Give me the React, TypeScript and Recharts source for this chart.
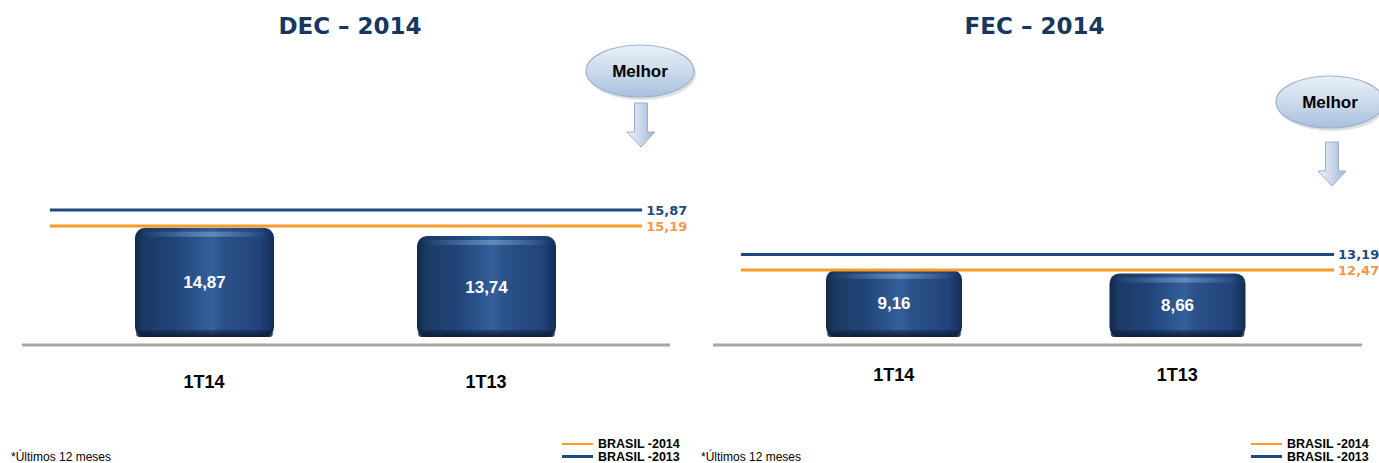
import React from 'react';
import { ComposedChart, Bar, XAxis, YAxis, ReferenceLine, LabelList } from 'recharts';

// quarters and indicator values
const CATEGORIES = ['1T14', '1T13'];
const DEC_VALUES = [14.87, 13.74];
const FEC_VALUES = [9.16, 8.66];
const SERIES_LABELS = ['BRASIL -2014', 'BRASIL -2013'];
const DEC_BRASIL = [15.19, 15.87];
const FEC_BRASIL = [12.47, 13.19];

const ORANGE = '#F69C2A';
const ORANGE_TEXT = '#F79646';
const NAVY = '#1F497D';
const TITLE = '#17375E';
const SERIES_COLORS = [ORANGE, NAVY];
const SERIES_TEXT = [ORANGE_TEXT, NAVY];

// the brasil lines leave a small gap at both ends of the plot
const LINE_INSET = 0.043;

const fmt = (v: number) => v.toFixed(2).replace('.', ',');

function CylinderBar(props: any) {
  const { x, y, width, height, gid } = props;
  if (!height || height <= 0) return null;
  return (
    <g>
      <rect x={x} y={y} width={width} height={height} rx={10} fill={`url(#${gid}-body)`} />
      <rect x={x + 6} y={y + 4} width={width - 12} height={5} rx={2.5} fill={`url(#${gid}-top)`} />
      <rect x={x + 1} y={y + height - 7} width={width - 2} height={7} rx={4} fill={`url(#${gid}-base)`} />
    </g>
  );
}

// horizontal reference line with its value written after the right end
function BrasilLine(props: any) {
  const { x1, x2, y1, color, textColor, text } = props;
  if (x1 == null || y1 == null) return null;
  const inset = (x2 - x1) * LINE_INSET;
  const a = x1 + inset;
  const b = x2 - inset;
  return (
    <g>
      <line x1={a} x2={b} y1={y1} y2={y1} stroke={color} strokeWidth={3} />
      <text
        x={b + 4}
        y={y1}
        dy="0.35em"
        fill={textColor}
        fontSize={13}
        fontWeight={700}
        fontFamily="DejaVu Sans"
      >
        {text}
      </text>
    </g>
  );
}

interface PanelProps {
  id: string;
  title: string;
  values: number[];
  brasil: number[];
  left: number;
  width: number;
  margin: { top: number; right: number; bottom: number; left: number };
  pad: { left: number; right: number };
  barSize: number;
  barDomain: [number, number];
  refDomain: [number, number];
  tickMargin: number;
}

function Panel(p: PanelProps) {
  const data = CATEGORIES.map((cat, i) => ({ cat, value: p.values[i] }));
  return (
    <div style={{ position: 'absolute', left: p.left, top: 0, width: p.width, height: 463 }}>
      <div
        style={{
          position: 'absolute',
          left: 0,
          width: p.width,
          top: 13,
          textAlign: 'center',
          fontFamily: 'DejaVu Sans',
          fontWeight: 700,
          fontSize: 23,
          lineHeight: '26px',
          color: TITLE,
        }}
      >
        {p.title}
      </div>
      <ComposedChart width={p.width} height={463} data={data} margin={p.margin}>
        <defs>
          <linearGradient id={`${p.id}-body`} x1="0" y1="0" x2="1" y2="0">
            <stop offset="0" stopColor="#12284a" />
            <stop offset="0.06" stopColor="#1b3963" />
            <stop offset="0.3" stopColor="#21457a" />
            <stop offset="0.55" stopColor="#34609a" />
            <stop offset="0.63" stopColor="#2b5289" />
            <stop offset="0.9" stopColor="#21437a" />
            <stop offset="1" stopColor="#152d54" />
          </linearGradient>
          <linearGradient id={`${p.id}-top`} x1="0" y1="0" x2="1" y2="0">
            <stop offset="0" stopColor="#6d93c4" stopOpacity="0" />
            <stop offset="0.55" stopColor="#6d93c4" stopOpacity="0.8" />
            <stop offset="1" stopColor="#6d93c4" stopOpacity="0" />
          </linearGradient>
          <linearGradient id={`${p.id}-base`} x1="0" y1="0" x2="0" y2="1">
            <stop offset="0" stopColor="#0e2140" stopOpacity="0.4" />
            <stop offset="1" stopColor="#0b1a33" stopOpacity="0.95" />
          </linearGradient>
        </defs>
        <XAxis
          xAxisId="cat"
          dataKey="cat"
          padding={p.pad}
          height={30}
          axisLine={{ stroke: '#A6A6A6', strokeWidth: 3 }}
          tickLine={false}
          tickSize={0}
          tickMargin={p.tickMargin}
          tick={{ fill: '#000', fontSize: 18, fontWeight: 700, fontFamily: 'Liberation Sans, Arial, sans-serif' }}
        />
        <YAxis yAxisId="bar" domain={p.barDomain} allowDataOverflow hide />
        <YAxis yAxisId="ref" domain={p.refDomain} allowDataOverflow hide />
        <Bar
          xAxisId="cat"
          yAxisId="bar"
          dataKey="value"
          barSize={p.barSize}
          isAnimationActive={false}
          shape={(sp: any) => <CylinderBar {...sp} gid={p.id} />}
        >
          <LabelList
            dataKey="value"
            position="center"
            formatter={(v: any) => fmt(Number(v))}
            fill="#fff"
            fontSize={17}
            fontWeight={700}
            fontFamily="Liberation Sans, Arial, sans-serif"
          />
        </Bar>
        {p.brasil.map((v, i) => (
          <ReferenceLine
            key={SERIES_LABELS[i]}
            xAxisId="cat"
            yAxisId="ref"
            y={v}
            ifOverflow="visible"
            shape={(sp: any) => (
              <BrasilLine {...sp} color={SERIES_COLORS[i]} textColor={SERIES_TEXT[i]} text={fmt(v)} />
            )}
          />
        ))}
      </ComposedChart>
    </div>
  );
}

function Legend({ left }: { left: number }) {
  return (
    <div
      style={{
        position: 'absolute',
        left,
        top: 438,
        fontFamily: 'Liberation Sans, Arial, sans-serif',
        fontWeight: 700,
        fontSize: 12.5,
        lineHeight: '12.5px',
        color: '#000',
        whiteSpace: 'nowrap',
      }}
    >
      {SERIES_LABELS.map((s, i) => (
        <div key={s} style={{ display: 'flex', alignItems: 'center' }}>
          <span
            style={{
              display: 'inline-block',
              width: 31,
              height: i === 0 ? 2 : 3,
              background: SERIES_COLORS[i],
              marginRight: 5,
            }}
          />
          {s}
        </div>
      ))}
    </div>
  );
}

function Note({ left }: { left: number }) {
  return (
    <div
      style={{
        position: 'absolute',
        left,
        top: 450,
        fontFamily: 'Liberation Sans, Arial, sans-serif',
        fontSize: 12,
        lineHeight: '14px',
        color: '#000',
        whiteSpace: 'nowrap',
      }}
    >
      *Últimos 12 meses
    </div>
  );
}

function Melhor({ cx, cy, ax, at }: { cx: number; cy: number; ax: number; at: number }) {
  return (
    <g>
      <ellipse cx={cx + 2} cy={cy + 3} rx={54} ry={26} fill="#000" opacity={0.12} />
      <ellipse cx={cx} cy={cy} rx={54} ry={26} fill="url(#melhor-fill)" stroke="#9DB3D1" strokeWidth={1.2} />
      <text
        x={cx}
        y={cy + 6}
        textAnchor="middle"
        fontFamily="Liberation Sans, Arial, sans-serif"
        fontWeight={700}
        fontSize={17}
        fill="#000"
      >
        Melhor
      </text>
      <path
        d={`M${ax - 6.5},${at} L${ax + 6.5},${at} L${ax + 6.5},${at + 29} L${ax + 14},${at + 29} L${ax},${at + 44} L${ax - 14},${at + 29} L${ax - 6.5},${at + 29} Z`}
        fill="url(#arrow-fill)"
        stroke="#9AAFCB"
        strokeWidth={1}
      />
    </g>
  );
}

export default function App() {
  return (
    <div
      style={{
        position: 'fixed',
        left: 0,
        top: 0,
        width: 1379,
        height: 463,
        background: '#fff',
        overflow: 'hidden',
      }}
    >
      <Panel
        id="dec"
        title="DEC – 2014"
        values={DEC_VALUES}
        brasil={DEC_BRASIL}
        left={0}
        width={700}
        margin={{ top: 190, right: 30, bottom: 88, left: 22 }}
        pad={{ left: 41, right: 43 }}
        barSize={139}
        barDomain={[-1.08, 20]}
        refDomain={[10.13, 16.72]}
        tickMargin={30}
      />
      <Panel
        id="fec"
        title="FEC – 2014"
        values={FEC_VALUES}
        brasil={FEC_BRASIL}
        left={690}
        width={689}
        margin={{ top: 190, right: 17, bottom: 88, left: 23 }}
        pad={{ left: 39, right: 43 }}
        barSize={136}
        barDomain={[-1.08, 20]}
        refDomain={[8.99, 16.19]}
        tickMargin={23}
      />
      <svg width={1379} height={463} style={{ position: 'absolute', left: 0, top: 0, pointerEvents: 'none' }}>
        <defs>
          <linearGradient id="melhor-fill" x1="0" y1="0" x2="0" y2="1">
            <stop offset="0" stopColor="#EAF0F8" />
            <stop offset="0.5" stopColor="#CCDAEC" />
            <stop offset="1" stopColor="#A9C0DE" />
          </linearGradient>
          <linearGradient id="arrow-fill" x1="0" y1="0" x2="1" y2="0">
            <stop offset="0" stopColor="#F2F5FA" />
            <stop offset="0.5" stopColor="#C9D7EA" />
            <stop offset="1" stopColor="#9FB5D4" />
          </linearGradient>
        </defs>
        <Melhor cx={640} cy={71} ax={641} at={103} />
        <Melhor cx={1330} cy={102} ax={1332} at={142} />
      </svg>
      <Legend left={562} />
      <Legend left={1251} />
      <Note left={11} />
      <Note left={701} />
    </div>
  );
}
